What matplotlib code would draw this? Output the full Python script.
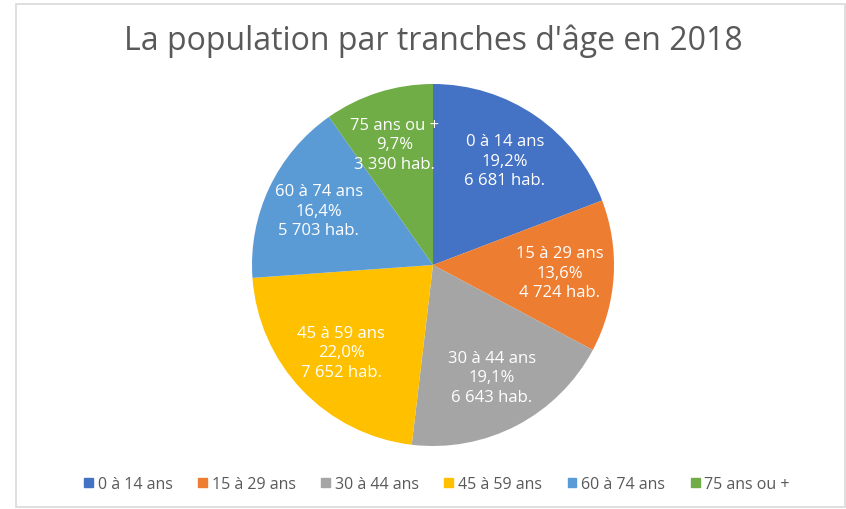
import matplotlib
matplotlib.use("Agg")
import matplotlib.pyplot as plt
from matplotlib.patches import Rectangle
import numpy as np

categories = ["0 à 14 ans", "15 à 29 ans", "30 à 44 ans", "45 à 59 ans", "60 à 74 ans", "75 ans ou +"]
values = [6681, 4724, 6643, 7652, 5703, 3390]
percents = ["19,2%", "13,6%", "19,1%", "22,0%", "16,4%", "9,7%"]
hab_labels = ["6 681 hab.", "4 724 hab.", "6 643 hab.", "7 652 hab.", "5 703 hab.", "3 390 hab."]
colors = ["#4472C4", "#ED7D31", "#A5A5A5", "#FFC000", "#5B9BD5", "#70AD47"]

plt.rcParams['font.family'] = ['Open Sans', 'DejaVu Sans']

fig = plt.figure(figsize=(8.46, 5.10), dpi=100)
fig.patches.append(Rectangle((16/846, 2/510), 829/846, 503/510, transform=fig.transFigure,
                             fill=False, edgecolor="#D9D9D9", linewidth=1.2))

W, H = 846, 510
cx, cy, r = 433, 266, 181
ax = fig.add_axes([(cx - r) / W, 1 - (cy + r) / H, 2 * r / W, 2 * r / H])
wedges, _ = ax.pie(values, colors=colors, startangle=90, counterclock=False,
                   wedgeprops=dict(linewidth=0))
ax.set_aspect('equal')
ax.set_xlim(-1, 1)
ax.set_ylim(-1, 1)
ax.axis('off')

total = sum(values)
angle = 90.0
for i, v in enumerate(values):
    span = 360.0 * v / total
    mid = np.deg2rad(angle - span / 2)
    angle -= span
    d = 0.70
    ax.text(d * np.cos(mid), d * np.sin(mid),
            f"{categories[i]}\n{percents[i]}\n{hab_labels[i]}",
            ha='center', va='center', color='white', fontsize=12, linespacing=1.3)

fig.text(433 / W, 1 - 41 / H, "La population par tranches d'âge en 2018",
         ha='center', va='center', fontsize=23, color='#595959')

handles = [Rectangle((0, 0), 1, 1, color=c) for c in colors]
fig.legend(handles, categories, loc='center', bbox_to_anchor=(437 / W, 1 - 485 / H),
           ncol=6, frameon=False, fontsize=11.5, labelcolor='#595959',
           handlelength=0.55, handleheight=0.55, handletextpad=0.3, columnspacing=1.6)

fig.savefig("out.png", dpi=100, facecolor='white')
